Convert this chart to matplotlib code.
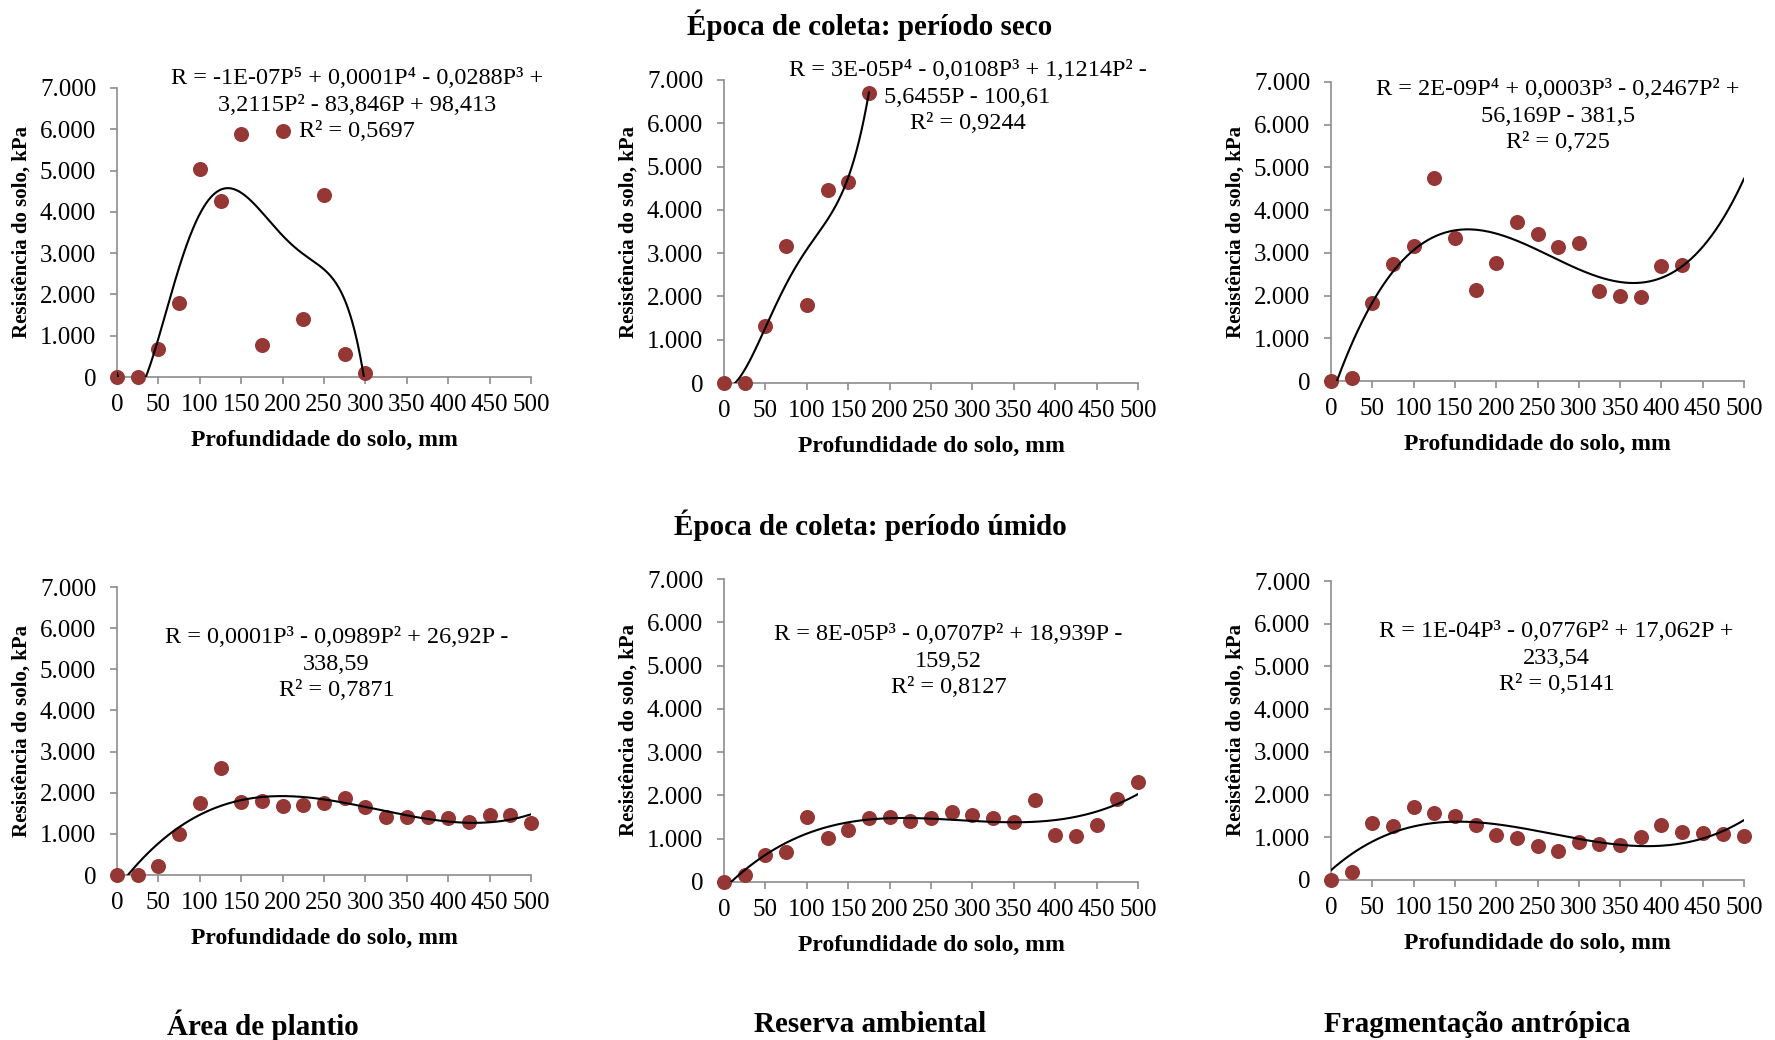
import numpy as np
import matplotlib
matplotlib.use("Agg")
import matplotlib.pyplot as plt
from matplotlib.ticker import FuncFormatter

plt.rcParams['font.family'] = ['Liberation Serif', 'DejaVu Serif']

# soil depth (mm) and resistance (kPa)
depth_seco_plantio = [0, 25, 50, 75, 100, 125, 150, 175, 200, 225, 250, 275, 300]
res_seco_plantio = [0, 0, 690, 1800, 5040, 4255, 5875, 777, 5955, 1400, 4400, 566, 105]

depth_seco_reserva = [0, 25, 50, 75, 100, 125, 150, 175]
res_seco_reserva = [0, 0, 1310, 3170, 1795, 4470, 4650, 6690]

depth_seco_frag = [0, 25, 50, 75, 100, 125, 150, 175, 200, 225, 250, 275, 300,
                   325, 350, 375, 400, 425]
res_seco_frag = [0, 80, 1820, 2740, 3156, 4742, 3352, 2133, 2758, 3734, 3445, 3140,
                 3234, 2100, 1984, 1969, 2695, 2711]

depth_umido = [0, 25, 50, 75, 100, 125, 150, 175, 200, 225, 250, 275, 300, 325,
               350, 375, 400, 425, 450, 475, 500]
res_umido_plantio = [0, 0, 226, 1002, 1738, 2603, 1778, 1795, 1665, 1690, 1738, 1875,
                     1649, 1415, 1399, 1415, 1382, 1285, 1455, 1447, 1261]
res_umido_reserva = [0, 170, 630, 700, 1500, 1015, 1192, 1477, 1500, 1408, 1469, 1608,
                     1554, 1469, 1385, 1900, 1092, 1069, 1323, 1915, 2308]
res_umido_frag = [0, 179, 1325, 1270, 1715, 1574, 1496, 1278, 1060, 982, 795, 686,
                  896, 842, 826, 1013, 1278, 1130, 1091, 1076, 1037]

eq_text = [
    "R = -1E-07P⁵ + 0,0001P⁴ - 0,0288P³ +\n3,2115P² - 83,846P + 98,413\nR² = 0,5697",
    "R = 3E-05P⁴ - 0,0108P³ + 1,1214P² -\n5,6455P - 100,61\nR² = 0,9244",
    "R = 2E-09P⁴ + 0,0003P³ - 0,2467P² +\n56,169P - 381,5\nR² = 0,725",
    "R = 0,0001P³ - 0,0989P² + 26,92P -\n338,59\nR² = 0,7871",
    "R = 8E-05P³ - 0,0707P² + 18,939P -\n159,52\nR² = 0,8127",
    "R = 1E-04P³ - 0,0776P² + 17,062P +\n233,54\nR² = 0,5141",
]

panels = [
    (depth_seco_plantio, res_seco_plantio, 5, 300),
    (depth_seco_reserva, res_seco_reserva, 4, 175),
    (depth_seco_frag, res_seco_frag, 4, 500),
    (depth_umido, res_umido_plantio, 3, 500),
    (depth_umido, res_umido_reserva, 3, 500),
    (depth_umido, res_umido_frag, 3, 500),
]

# axes boxes in pixels: left, right, top, bottom
W, H = 1775, 1040
boxes = [
    (117, 531, 88, 377), (724, 1138, 80, 383), (1331, 1744, 82, 381),
    (117, 531, 587, 875), (724, 1138, 579, 882), (1331, 1744, 581, 880),
]
eq_pos = [(290, 6588), (294, 6607), (275, 6204), (265, 5128), (271, 5105), (273, 5197)]

dot_color = '#953735'
axis_color = '#8c8c8c'

fig = plt.figure(figsize=(W / 100, H / 100), dpi=100)

for i, (x, y, deg, xend) in enumerate(panels):
    l, r, t, b = boxes[i]
    ax = fig.add_axes([l / W, 1 - b / H, (r - l) / W, (b - t) / H])
    ax.scatter(x, y, s=117, color=dot_color, zorder=3, clip_on=False, linewidths=0)
    coef = np.polyfit(x, y, deg)
    xs = np.linspace(0, xend, 400)
    ax.plot(xs, np.polyval(coef, xs), color='black', lw=1.5, zorder=4)
    ax.set_xlim(0, 500)
    ax.set_ylim(0, 7000)
    ax.set_xticks(np.arange(0, 501, 50))
    ax.set_yticks(np.arange(0, 7001, 1000))
    ax.yaxis.set_major_formatter(FuncFormatter(lambda v, p: f"{int(v):,}".replace(",", ".")))
    for s in ['top', 'right']:
        ax.spines[s].set_visible(False)
    for s in ['left', 'bottom']:
        ax.spines[s].set_color(axis_color)
        ax.spines[s].set_linewidth(1.2)
    ax.tick_params(axis='both', colors=axis_color, labelcolor='black', labelsize=18,
                   length=5, width=1.2, direction='out')
    ax.tick_params(axis='x', pad=7)
    ax.tick_params(axis='y', pad=10)
    ax.set_xlabel("Profundidade do solo, mm", fontsize=17, fontweight='bold')
    ax.set_ylabel("Resistência do solo, kPa", fontsize=15, fontweight='bold')
    ax.xaxis.set_label_coords(0.5, -63 / (b - t), transform=ax.transAxes)
    ax.xaxis.label.set_va('center')
    ax.yaxis.set_label_coords(-95 / (r - l), 0.5, transform=ax.transAxes)
    ax.yaxis.label.set_va('center')
    ax.text(eq_pos[i][0], eq_pos[i][1], eq_text[i], ha='center', va='center',
            fontsize=17.5, linespacing=1.37, zorder=5)

fig.text(870 / W, 1 - 25 / H, "Época de coleta: período seco", ha='center', va='center',
         fontsize=21, fontweight='bold')
fig.text(870 / W, 1 - 525 / H, "Época de coleta: período úmido", ha='center', va='center',
         fontsize=21, fontweight='bold')
for xc, lab in [(263, "Área de plantio"), (870, "Reserva ambiental"),
                (1477, "Fragmentação antrópica")]:
    fig.text(xc / W, 1 - 1025 / H, lab, ha='center', va='center',
             fontsize=21, fontweight='bold')

fig.savefig("out.png", dpi=100, facecolor='white')
